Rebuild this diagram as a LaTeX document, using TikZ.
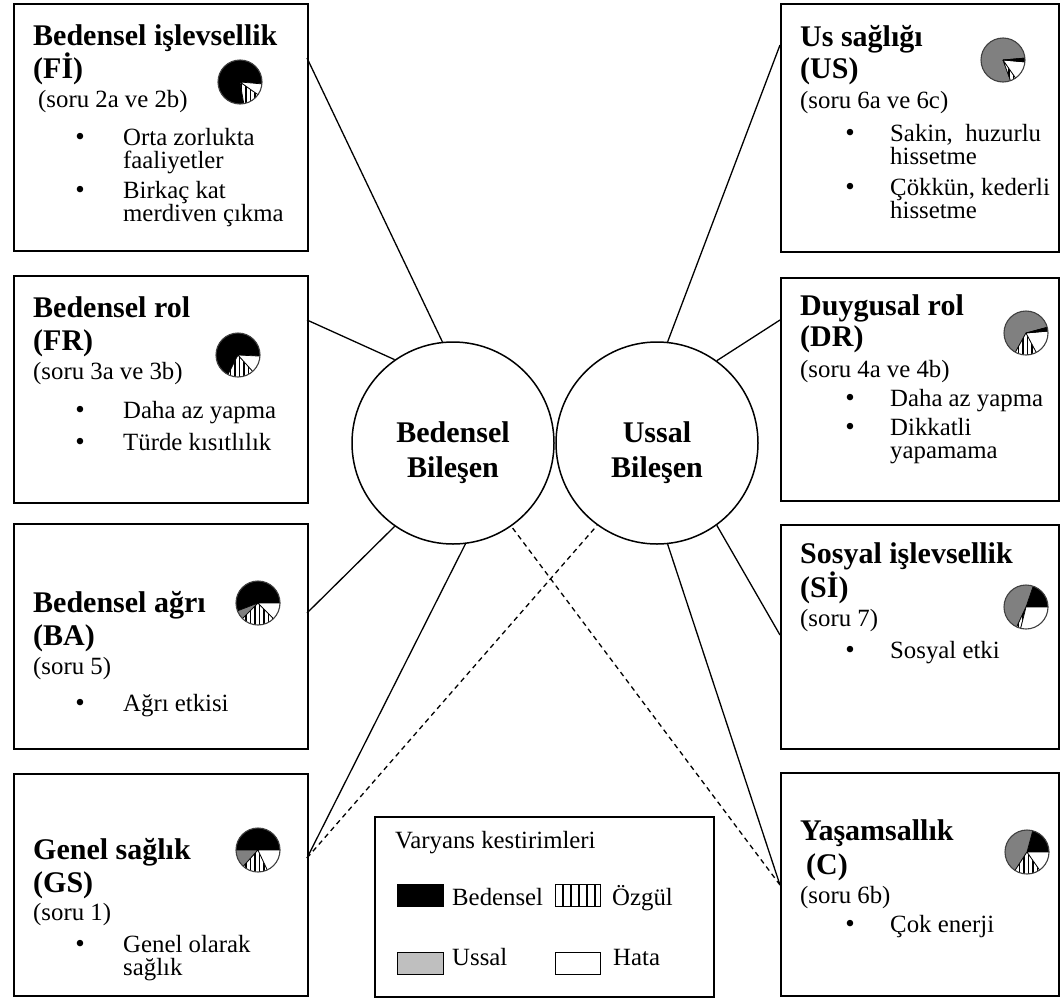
\documentclass[tikz,border=0pt]{standalone}
\usepackage{fontspec}
\setmainfont{Liberation Serif}
\newcommand{\tf}{\fontsize{30bp}{34bp}\selectfont\bfseries}
\newcommand{\rf}{\fontsize{24.8bp}{28bp}\selectfont}
\newcommand{\bulf}{\fontsize{27bp}{30bp}\selectfont}
\def\pr{22}
\newcommand{\pieW}[3]{\fill[#3] (0,0) -- (#1:\pr) arc[start angle=#1, end angle=#2, radius=\pr] -- cycle;
  \draw[line width=0.7bp] (0,0) -- (#1:\pr) (0,0) -- (#2:\pr);}
\newcommand{\pieS}[2]{\begin{scope}
  \clip (0,0) -- (#1:\pr) arc[start angle=#1, end angle=#2, radius=\pr] -- cycle;
  \fill[white] (-\pr,-\pr) rectangle (\pr,\pr);
  \foreach \k in {-21,-16.5,...,22} \draw[line width=1.4bp] (\k,-\pr) -- (\k,\pr);
  \end{scope}
  \draw[line width=0.7bp] (0,0) -- (#1:\pr) (0,0) -- (#2:\pr);}
\newcommand{\pieO}{\draw[line width=1.1bp, black!75] (0,0) circle[radius=\pr];}
\tikzset{
  box/.style={draw, line width=1.5bp, inner sep=0, anchor=north west},
  comp/.style={draw, circle, line width=1.5bp, inner sep=0, minimum size=202bp},
  ttl/.style={font=\tf, anchor=base west, inner sep=0},
  ctl/.style={font=\tf, anchor=base, inner sep=0},
  txt/.style={font=\rf, anchor=base west, inner sep=0},
  bul/.style={font=\bulf, anchor=base, inner sep=0},
  key/.style={draw, line width=1.3bp, inner sep=0, minimum width=46bp, minimum height=22bp, anchor=north west},
  conn/.style={line width=1.3bp},
  dconn/.style={line width=1.3bp, dash pattern=on 5bp off 4bp},
  pie/.style={shift={#1}, yscale=-1},
}
\begin{document}
\begin{tikzpicture}[x=1bp, y=-1bp]
\useasboundingbox (0,0) rectangle (1064,998);
% boxes
\node[box, minimum width=294bp, minimum height=247bp] (L1) at (13,3) {};
\node[box, minimum width=294bp, minimum height=227bp] (L2) at (13,275) {};
\node[box, minimum width=294bp, minimum height=225bp] (L3) at (13,523) {};
\node[box, minimum width=294bp, minimum height=222bp] (L4) at (13,773) {};
\node[box, minimum width=278bp, minimum height=248bp] (R1) at (780,3) {};
\node[box, minimum width=278bp, minimum height=223bp] (R2) at (780,277) {};
\node[box, minimum width=278bp, minimum height=224bp] (R3) at (780,524) {};
\node[box, minimum width=278bp, minimum height=223bp] (R4) at (780,772) {};
\node[box, minimum width=339bp, minimum height=180bp] (LG) at (374,816) {};
% circles
\node[comp] (BC) at (453,443) {};
\node[comp] (UC) at (657,443) {};
\node[ctl] (bc1) at (453,442) {Bedensel};
\node[ctl] (bc2) at (453,477) {Bileşen};
\node[ctl] (uc1) at (657,442) {Ussal};
\node[ctl] (uc2) at (657,477) {Bileşen};
% L1 text
\node[ttl] (l1a) at (33,45) {Bedensel işlevsellik};
\node[ttl] (l1b) at (33,78) {(Fİ)};
\node[txt] (l1c) at (38,107) {(soru 2a ve 2b)};
\node[bul] (l1d) at (80,145) {•};
\node[txt] (l1e) at (123,145) {Orta zorlukta};
\node[txt] (l1f) at (123,168) {faaliyetler};
\node[bul] (l1g) at (80,198) {•};
\node[txt] (l1h) at (123,198) {Birkaç kat};
\node[txt] (l1i) at (123,221) {merdiven çıkma};
% L2
\node[ttl] (l2a) at (33,317) {Bedensel rol};
\node[ttl] (l2b) at (33,350) {(FR)};
\node[txt] (l2c) at (33,379) {(soru 3a ve 3b)};
\node[bul] (l2d) at (80,418) {•};
\node[txt] (l2e) at (123,418) {Daha az yapma};
\node[bul] (l2f) at (80,450) {•};
\node[txt] (l2g) at (123,450) {Türde kısıtlılık};
% L3
\node[ttl] (l3a) at (33,612) {Bedensel ağrı};
\node[ttl] (l3b) at (33,645) {(BA)};
\node[txt] (l3c) at (33,674) {(soru 5)};
\node[bul] (l3d) at (80,711) {•};
\node[txt] (l3e) at (123,711) {Ağrı etkisi};
% L4
\node[ttl] (l4a) at (33,859) {Genel sağlık};
\node[ttl] (l4b) at (33,892) {(GS)};
\node[txt] (l4c) at (33,920) {(soru 1)};
\node[bul] (l4d) at (80,952) {•};
\node[txt] (l4e) at (123,952) {Genel olarak};
\node[txt] (l4f) at (123,975) {sağlık};
% R1
\node[ttl] (r1a) at (800,46) {Us sağlığı};
\node[ttl] (r1b) at (800,78) {(US)};
\node[txt] (r1c) at (800,108) {(soru 6a ve 6c)};
\node[bul] (r1d) at (850,141) {•};
\node[txt] (r1e) at (890,141) {Sakin,~~huzurlu};
\node[txt] (r1f) at (890,164) {hissetme};
\node[bul] (r1g) at (850,195) {•};
\node[txt] (r1h) at (890,195) {Çökkün, kederli};
\node[txt] (r1i) at (890,218) {hissetme};
% R2
\node[ttl] (r2a) at (800,315) {Duygusal rol};
\node[ttl] (r2b) at (800,346) {(DR)};
\node[txt] (r2c) at (800,377) {(soru 4a ve 4b)};
\node[bul] (r2d) at (850,406) {•};
\node[txt] (r2e) at (890,406) {Daha az yapma};
\node[bul] (r2f) at (850,435) {•};
\node[txt] (r2g) at (890,435) {Dikkatli};
\node[txt] (r2h) at (890,458) {yapamama};
% R3
\node[ttl] (r3a) at (800,563) {Sosyal işlevsellik};
\node[ttl] (r3b) at (800,597) {(Sİ)};
\node[txt] (r3c) at (800,626) {(soru 7)};
\node[bul] (r3d) at (850,658) {•};
\node[txt] (r3e) at (890,658) {Sosyal etki};
% R4
\node[ttl] (r4a) at (800,840) {Yaşamsallık};
\node[ttl] (r4b) at (806,874) {(C)};
\node[txt] (r4c) at (800,903) {(soru 6b)};
\node[bul] (r4d) at (850,932) {•};
\node[txt] (r4e) at (890,932) {Çok enerji};
% legend
\node[txt] (lga) at (395,848) {Varyans kestirimleri};
\node[key, fill=black] (lk1) at (397,884) {};
\node[txt] (lgb) at (452,905) {Bedensel};
\node[key, minimum width=45bp] (lk2) at (555,884) {};
\foreach \k in {563,571,...,595} \draw[line width=1.3bp] (\k,884) -- (\k,906);
\node[txt] (lgc) at (612,905) {Özgül};
\node[key, fill=black!25] (lk3) at (397,952) {};
\node[txt] (lgd) at (452,965) {Ussal};
\node[key, minimum width=45bp, fill=white] (lk4) at (555,952) {};
\node[txt] (lge) at (613,965) {Hata};
% connectors
\coordinate (p1) at (307,58);
\coordinate (p2) at (307,320);
\coordinate (p3) at (307,613);
\coordinate (p4) at (307,858);
\coordinate (q1) at (780,45);
\coordinate (q2) at (780,320);
\coordinate (q3) at (780,635);
\coordinate (q4) at (780,885);
\draw[conn] (p1) -- (BC.96);
\draw[conn] (p2) -- (BC.125);
\draw[conn] (p3) -- (BC.235);
\draw[conn] (p4) -- (BC.277);
\draw[dconn] (p4) -- (UC.234);
\draw[conn] (q1) -- (UC.84);
\draw[conn] (q2) -- (UC.54);
\draw[conn] (q3) -- (UC.306);
\draw[conn] (q4) -- (UC.276);
\draw[dconn] (q4) -- (BC.305);
% pies
\begin{scope}[pie={(240,82)}]
  \pieW{-5}{280}{black}\pieS{280}{325}\pieW{325}{355}{white}\pieO
\end{scope}
\begin{scope}[pie={(238,355)}]
  \pieW{-3}{243}{black}\pieS{243}{312}\pieW{312}{357}{white}\pieO
\end{scope}
\begin{scope}[pie={(258,603)}]
  \pieW{0}{201}{black}\pieW{201}{225}{gray}\pieS{225}{315}\pieW{315}{360}{white}\pieO
\end{scope}
\begin{scope}[pie={(258,850)}]
  \pieW{0}{180}{black}\pieW{180}{228}{gray}\pieS{228}{295}\pieW{295}{360}{white}\pieO
\end{scope}
\begin{scope}[pie={(1003,60)}]
  \pieW{5}{290}{gray}\pieS{290}{305}\pieW{305}{355}{white}\pieW{355}{365}{black}\pieO
\end{scope}
\begin{scope}[pie={(1026,333)}]
  \pieW{15}{241}{gray}\pieS{241}{298}\pieW{298}{365}{white}\pieW{5}{15}{black}\pieO
\end{scope}
\begin{scope}[pie={(1026,607)}]
  \pieW{0}{71}{black}\pieW{71}{245}{gray}\pieS{245}{256}\pieW{256}{360}{white}\pieO
\end{scope}
\begin{scope}[pie={(1027,852)}]
  \pieW{0}{75}{black}\pieW{75}{237}{gray}\pieS{237}{305}\pieW{305}{360}{white}\pieO
\end{scope}
\end{tikzpicture}
\end{document}
